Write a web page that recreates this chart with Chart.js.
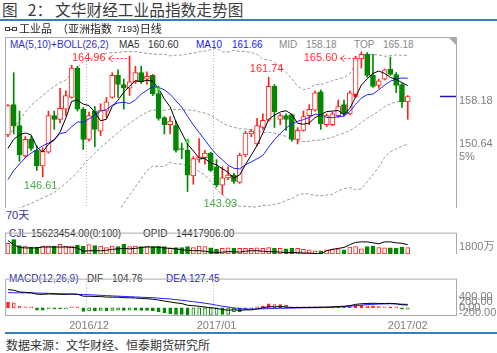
<!DOCTYPE html>
<html><head><meta charset="utf-8">
<script src="https://cdn.jsdelivr.net/npm/chart.js@4/dist/chart.umd.min.js"></script>
<style>
body{margin:0;width:497px;height:353px;background:#fff;position:relative;overflow:hidden;font-family:"Liberation Sans","Noto Sans CJK SC",sans-serif}
.t{position:absolute;white-space:nowrap;line-height:12px;font-size:10px;font-family:"Liberation Sans","Noto Sans CJK SC",sans-serif}
.cjk{font-family:"Noto Sans CJK SC",sans-serif}
#ttl{position:absolute;left:0;top:0;height:19px;line-height:19px;font-size:15.7px;color:#3c3c3c;font-family:"Noto Sans CJK SC",sans-serif;white-space:nowrap;padding-left:2px}
canvas{position:absolute}
</style></head><body>
<div id="ttl">图<span style="margin-left:10px">2</span>：<span style="margin-left:3px">文华财经工业品指数走势图</span></div>
<div style="position:absolute;left:0;top:19px;width:497px;height:2px;background:#3a7dc0"></div>

<div class="t" style="left:10px;top:39px;color:#3333cc">MA(5,10)+BOLL(26,2)</div>
<div class="t" style="left:119px;top:39px;color:#333">MA5</div>
<div class="t" style="left:148px;top:39px;color:#333">160.60</div>
<div class="t" style="left:196px;top:39px;color:#2020ee">MA10</div>
<div class="t" style="left:232px;top:39px;color:#2020ee">161.66</div>
<div class="t" style="left:279px;top:39px;color:#888">MID</div>
<div class="t" style="left:306px;top:39px;color:#888">158.18</div>
<div class="t" style="left:354px;top:39px;color:#888">TOP</div>
<div class="t" style="left:383px;top:39px;color:#888">165.18</div>
<div class="t" style="left:6px;top:209px;font-size:11px;color:#333399">70天</div>

<div class="t" style="left:9px;top:228px;color:#333399">CJL</div>
<div class="t" style="left:31px;top:228px;color:#333">15623454.00(0:100)</div>
<div class="t" style="left:143px;top:228px;color:#333">OPID</div>
<div class="t" style="left:176px;top:228px;color:#333">14417906.00</div>

<div class="t" style="left:9px;top:273px;color:#3333aa">MACD(12,26,9)</div>
<div class="t" style="left:87px;top:273px;color:#333">DIF</div>
<div class="t" style="left:112px;top:273px;color:#333">104.76</div>
<div class="t" style="left:166px;top:273px;color:#2020dd">DEA</div>
<div class="t" style="left:189px;top:273px;color:#2020dd">127.45</div>

<div style="position:absolute;left:5px;top:332px;width:492px;height:2px;background:#3a7dc0"></div>
<div class="t cjk" style="left:6px;top:338px;font-size:12px;line-height:14px;color:#333">数据来源：文华财经、恒泰期货研究所</div>

<canvas id="cMain" width="497" height="203" style="left:0;top:21px"></canvas>
<canvas id="cVol" width="492" height="46" style="left:5px;top:224px"></canvas>
<canvas id="cMacd" width="492" height="62" style="left:5px;top:270px"></canvas>

<script>
// ---------- data ----------
const slots = Array.from({length:78},(_,i)=>String(i));   // 70 trading days + empty right margin
const monthIndex = [14, 36, 69];
const monthLabels = ['2016/12','2017/01','2017/02'];
const gridMonthIdx = [14, 36];

const opens  = [152.99,157.57,154.38,149.80,152.30,150.63,148.27,150.35,155.91,155.35,156.88,158.68,163.13,156.88,152.30,156.60,153.55,156.60,158.68,162.02,160.63,160.07,161.05,162.43,161.46,162.02,159.24,155.63,154.52,154.38,150.91,150.63,146.74,149.24,149.52,150.21,148.13,145.35,146.46,146.88,145.77,149.93,153.13,151.60,154.10,155.21,160.35,155.35,155.91,156.05,152.30,153.68,155.91,156.74,159.52,154.52,154.52,155.91,157.57,156.18,158.96,164.52,165.21,162.02,160.49,161.46,162.99,162.16,160.63,157.99];
const highs  = [157.57,162.43,156.60,152.71,152.71,151.32,151.05,156.60,156.60,160.07,159.66,163.55,163.41,157.16,156.46,157.30,157.71,158.68,162.43,162.85,161.46,164.96,163.41,163.41,162.57,162.16,160.35,155.77,155.77,155.07,151.74,152.30,149.66,152.43,150.63,150.35,149.24,148.13,148.13,147.16,150.21,153.55,153.82,155.49,156.18,161.74,160.63,156.18,156.18,156.18,154.10,156.60,157.57,159.66,159.80,156.18,156.46,158.27,158.27,159.66,164.93,165.60,165.50,165.21,161.46,162.99,164.80,162.43,160.77,158.96];
const lows   = [152.71,153.13,148.96,149.52,150.63,147.57,146.61,150.21,153.82,154.80,155.91,158.55,156.60,150.77,152.02,151.18,152.85,155.63,158.55,158.68,156.88,158.96,160.77,160.77,160.63,158.96,155.21,153.13,153.13,150.35,149.38,144.38,145.49,148.82,148.55,147.43,145.07,143.93,146.18,145.63,145.63,149.66,152.71,151.32,153.82,155.07,154.10,154.52,153.68,152.02,151.60,153.55,154.52,156.60,153.82,154.24,154.38,155.63,155.91,156.05,158.68,163.13,161.74,160.21,160.07,161.32,162.02,159.38,157.16,155.35];
const closes = [157.43,154.38,149.93,152.30,150.91,148.27,150.49,155.91,155.35,157.02,158.96,163.13,156.88,152.30,155.91,153.82,156.74,157.99,162.02,160.63,160.07,161.05,162.43,161.05,161.88,159.24,155.49,154.52,155.07,150.63,150.77,146.88,149.38,149.66,150.21,147.57,145.35,146.46,146.88,145.91,149.93,153.27,153.55,154.38,155.21,160.35,156.46,155.91,155.35,152.30,153.68,155.77,156.88,159.38,154.66,155.91,156.18,157.30,156.18,159.38,164.66,165.21,162.02,160.35,161.18,162.85,162.16,160.49,157.99,158.82];

// indicator values visible before enough history exists inside the window
const ma5Head  = [150.91,152.30,152.99,153.27];
const ma10Head = [146.18,147.57,148.55,149.52,150.21,150.77,151.32,151.74,152.30];
const bollTopHead = [152.71,153.96,155.21,156.46,157.43,158.27,158.96,159.66,160.35,160.91,161.32,162.30,163.27,164.10,164.38,164.66,165.07,165.35,165.49,165.49,165.63,165.63,165.63,165.49,165.35];
const bollMidHead = [141.32,141.60,141.88,142.23,142.57,142.99,143.41,143.82,144.24,144.93,145.63,146.46,147.30,148.41,149.38,150.21,151.05,151.81,152.57,153.34,154.10,154.73,155.35,155.91,156.46];
const bollBotHead = [129.93,129.24,128.55,128.00,127.71,127.71,127.86,127.98,128.13,128.95,129.94,130.62,131.33,132.72,134.38,135.76,137.03,138.27,139.65,141.19,142.57,143.83,145.07,146.33,147.57];

const signalIdx   = [26, 31, 60];
const signalPrice = [159.93, 152.02, 158.96];

const priceTicks = [158.18, 150.64];
const priceTickLabels = [['158.18'], ['150.64','5%']];

// volume in 万 (10k lots), open interest in 万
const volume = [2567,3460,2009,1897,1674,1674,1897,1897,1897,2344,1897,1897,2120,1897,2232,2009,1897,1562,1897,1786,2344,1786,1897,1786,1897,1786,1897,1786,1451,1562,1562,1786,1562,1897,1786,1451,1116,1339,1451,1339,1339,1339,1339,1451,1339,1562,1339,1339,1228,1339,1339,1116,1004,781,781,1004,1116,1228,1004,1674,1786,1228,1786,1897,1562,1451,1451,1339,1674,1562.35];
const openInt = [1532,1442,1382,1372,1372,1372,1392,1392,1392,1392,1392,1382,1372,1302,1312,1312,1312,1322,1342,1352,1362,1352,1362,1382,1392,1392,1382,1372,1362,1352,1332,1322,1312,1312,1302,1282,1272,1282,1292,1292,1282,1302,1312,1312,1302,1292,1292,1282,1272,1272,1272,1262,1262,1252,1242,1312,1342,1362,1382,1442,1492,1502,1502,1482,1462,1502,1502,1482,1472,1441.79];
const volTicks = [1800];

// MACD(12,26,9)
const dif  = [662,643,579,565,549,498,492,507,500,494,493,507,497,424,423,413,411,393,390,388,370,369,360,342,333,316,285,247,215,182,159,97,80,57,32,8,-18,-56,-84,-66,-89,-71,-69,-33,4,47,41,46,36,10,15,18,21,24,27,30,40,50,61,85,128,151,161,169,162,161,165,152,113,104.76];
const dea  = [554,551,548,545,542,539,533,527,520,514,508,500,492,485,477,467,457,447,436,426,416,407,398,388,379,370,354,339,323,300,277,251,226,200,170,139,100,62,31,0,-23,-40,-46,-40,-31,-25,-20,-15,-10,-5,0,3,6,9,12,15,25,35,46,62,77,100,123,131,139,146,150,145,136,127.45];
const macd = [216,185,62,40,15,-83,-83,-40,-40,-40,-31,15,9,-123,-108,-108,-92,-108,-92,-77,-92,-77,-77,-92,-92,-108,-139,-185,-216,-237,-237,-308,-293,-286,-277,-262,-237,-237,-231,-132,-132,-62,-46,15,71,145,123,123,92,31,31,31,31,31,31,31,31,31,31,46,102,102,77,77,46,31,31,15,-46,-45.38];
const macdTicks = [400,200,0,-200];

// ---------- derived indicators ----------
function movAvg(n, head){
  return closes.map((c,i)=>{
    if(i < n-1) return head[i];
    let s=0; for(let k=i-n+1;k<=i;k++) s+=closes[k]; return s/n;
  });
}
const ma5 = movAvg(5, ma5Head), ma10 = movAvg(10, ma10Head);
const bollMid=[], bollTop=[], bollBot=[];
closes.forEach((c,i)=>{
  if(i<25){ bollMid.push(bollMidHead[i]); bollTop.push(bollTopHead[i]); bollBot.push(bollBotHead[i]); return; }
  let s=0; for(let k=i-25;k<=i;k++) s+=closes[k]; const m=s/26;
  let v=0; for(let k=i-25;k<=i;k++) v+=(closes[k]-m)**2; const sd=Math.sqrt(v/25);
  bollMid.push(m); bollTop.push(m+2*sd); bollBot.push(m-2*sd);
});

// ---------- styling ----------
const RED='#ff2020', GREEN='#008800', GRAYTXT='#808080';
const up = closes.map((c,i)=>c>=opens[i]);
const FONT = {family:'Liberation Sans, Noto Sans CJK SC', size:11};

function xCfg(show){
  return {type:'category', labels:slots, offset:true, display:show,
    grid:{display:false, drawTicks:false}, border:{display:false},
    ticks:{autoSkip:false, maxRotation:0, minRotation:0, padding:3, color:GRAYTXT, font:FONT,
      callback:(v,i)=>{const k=monthIndex.indexOf(i); return k>=0?monthLabels[k]:'';}},
    afterFit:s=>{s.height=16;}};
}
function yCfg(min,max,vals,labelFn){
  return {position:'right', min, max,
    grid:{display:false, drawTicks:false}, border:{display:false},
    afterBuildTicks:s=>{s.ticks=vals.map(v=>({value:v}));},
    ticks:{autoSkip:false, padding:2, color:GRAYTXT, font:FONT, callback:(v,i)=>labelFn(v,i)},
    afterFit:s=>{s.width=40;}};
}
function framePlugin(withBottom){
  return {id:'frame',
    beforeDatasetsDraw(chart){
      const {ctx, chartArea:a, scales:{x}} = chart;
      ctx.save(); ctx.strokeStyle='#b4b4b4'; ctx.lineWidth=1; ctx.setLineDash([1,2]);
      gridMonthIdx.forEach(i=>{
        const px=Math.floor((x.getPixelForValue(i-1)+x.getPixelForValue(i))/2)+0.5;
        ctx.beginPath(); ctx.moveTo(px,a.top); ctx.lineTo(px,a.bottom); ctx.stroke();
      });
      ctx.restore();
    },
    afterDraw(chart){
      const {ctx, chartArea:a} = chart;
      ctx.save(); ctx.strokeStyle='#aaaaaa'; ctx.lineWidth=1;
      const L=a.left+0.5, R=a.right-0.5, T=a.top+0.5, B=a.bottom-0.5;
      ctx.beginPath();
      ctx.moveTo(L,a.bottom); ctx.lineTo(L,T); ctx.lineTo(R,T); ctx.lineTo(R,a.bottom);
      if(withBottom){ ctx.moveTo(L,B); ctx.lineTo(R,B); }
      ctx.stroke(); ctx.restore();
    }};
}
const base = {responsive:false, animation:false, events:[],
  layout:{padding:0, autoPadding:false},
  plugins:{legend:{display:false}, tooltip:{enabled:false}}};

// instrument line drawn above the price panel (same canvas)
const instrument = {id:'instrument',
  afterDraw(chart){
    const {ctx, chartArea:a} = chart;
    const yc = a.top - 8;
    ctx.save();
    ctx.strokeStyle='#444'; ctx.lineWidth=1;
    ctx.strokeRect(5.5, Math.round(yc)-1.5, 4, 3); ctx.strokeRect(12.5, Math.round(yc)-1.5, 4, 3);
    ctx.beginPath(); ctx.moveTo(10, Math.round(yc)+0.5); ctx.lineTo(12, Math.round(yc)+0.5); ctx.stroke();
    ctx.fillStyle='#222'; ctx.textBaseline='middle'; ctx.textAlign='left';
    ctx.font='11px "Noto Sans CJK SC"';
    ctx.fillText('工业品', 19, yc);
    ctx.fillText('（亚洲指数', 57, yc);
    ctx.font='9px "Liberation Sans"';
    ctx.fillText('7193', 117, yc+1);
    ctx.font='11px "Noto Sans CJK SC"';
    ctx.fillText(')日线', 136, yc);
    ctx.restore();
  }};

// ---------- main price chart ----------
const annot = {id:'annot',
  afterDatasetsDraw(chart){
    const {ctx, chartArea:a, scales:{x,y}} = chart;
    ctx.save();
    ctx.font='11px Liberation Sans'; ctx.textBaseline='middle';
    [21,61].forEach(i=>{
      const xc=x.getPixelForValue(i), hy=y.getPixelForValue(highs[i]);
      const yl=Math.max(a.top+21, hy);
      ctx.fillStyle='#ff3030'; ctx.textAlign='right';
      ctx.fillText(highs[i].toFixed(2), xc-24, yl);
      ctx.strokeStyle='#ff3030'; ctx.lineWidth=1; ctx.setLineDash([2,2]);
      ctx.beginPath(); ctx.moveTo(xc-21, Math.round(yl)+0.5); ctx.lineTo(xc, Math.round(yl)+0.5); ctx.stroke();
      if(hy>yl+1){ ctx.beginPath(); ctx.moveTo(xc, yl); ctx.lineTo(xc, hy); ctx.stroke(); }
      ctx.setLineDash([]);
      ctx.beginPath(); ctx.moveTo(xc-17, yl-2.5); ctx.lineTo(xc-21, yl+0.5); ctx.lineTo(xc-17, yl+3.5); ctx.stroke();
    });
    [45].forEach(i=>{
      ctx.fillStyle='#ff3030'; ctx.textAlign='center';
      ctx.fillText(highs[i].toFixed(2), x.getPixelForValue(i)-2, y.getPixelForValue(highs[i])-8);
    });
    [6,37].forEach(i=>{
      ctx.fillStyle='#44aa44'; ctx.textAlign='center';
      ctx.fillText(lows[i].toFixed(2), x.getPixelForValue(i)-2, y.getPixelForValue(lows[i])+9);
    });
    const ly=Math.round(y.getPixelForValue(closes[closes.length-1]))+0.5;
    ctx.strokeStyle='#1c1cb4'; ctx.lineWidth=1.5;
    ctx.beginPath(); ctx.moveTo(a.right-17, ly); ctx.lineTo(a.right, ly); ctx.stroke();
    ctx.fillStyle='#a8a8a8'; ctx.beginPath();
    ctx.moveTo(a.right-9, a.top); ctx.lineTo(a.right, a.top); ctx.lineTo(a.right, a.top+9); ctx.closePath(); ctx.fill();
    ctx.restore();
  }};

new Chart(document.getElementById('cMain'), {
  type:'bar',
  data:{labels:slots, datasets:[
    {type:'line', data:bollTop, borderColor:'#9a9a9a', borderWidth:1, borderDash:[3,2], pointRadius:0, order:7},
    {type:'line', data:bollMid, borderColor:'#9a9a9a', borderWidth:1, borderDash:[3,2], pointRadius:0, order:7},
    {type:'line', data:bollBot, borderColor:'#9a9a9a', borderWidth:1, borderDash:[3,2], pointRadius:0, order:7},
    {type:'bar', data:lows.map((l,i)=>[l,highs[i]]), backgroundColor:up.map(u=>u?RED:GREEN), borderWidth:0, barThickness:1, grouped:false, order:6},
    {type:'bar', data:opens.map((o,i)=>[o,closes[i]]), backgroundColor:up.map(u=>u?'#ffffff':GREEN), borderColor:up.map(u=>u?RED:GREEN), borderWidth:1, borderSkipped:false, barThickness:5, minBarLength:1, grouped:false, order:5},
    {type:'line', data:ma10, borderColor:'#2020ff', borderWidth:1, pointRadius:0, order:2},
    {type:'line', data:ma5, borderColor:'#000000', borderWidth:1, pointRadius:0, order:1},
    {type:'line', data:signalIdx.map((i,k)=>({x:slots[i], y:signalPrice[k]})), showLine:false, pointStyle:'rect', pointRadius:2.5, pointBorderWidth:0,
      pointBackgroundColor:signalIdx.map(i=>up[i]?'#ff0000':'#33ee33'), order:0}
  ]},
  options:{...base, layout:{padding:{top:16, left:5, right:0, bottom:0}, autoPadding:false},
    scales:{x:{...xCfg(false)}, y:yCfg(141.88,167.85,priceTicks,(v,i)=>priceTickLabels[i])}},
  plugins:[framePlugin(false), annot, instrument]
});

new Chart(document.getElementById('cVol'), {
  type:'bar',
  data:{labels:slots, datasets:[
    {type:'line', data:openInt, yAxisID:'yOI', borderColor:'#000', borderWidth:1, pointRadius:0, order:0},
    {type:'bar', data:volume, backgroundColor:up.map(u=>u?'#ffffff':GREEN), borderColor:up.map(u=>u?RED:GREEN), borderWidth:1, borderSkipped:false, barThickness:4, order:1}
  ]},
  options:{...base, scales:{x:xCfg(false), y:yCfg(0,5134,volTicks,v=>v+'万'),
    yOI:{display:false, min:1241.79, max:1701.79}}},
  plugins:[framePlugin(false)]
});

const macdFill = macd.map((v,i)=> i===0 || Math.abs(v)>=Math.abs(macd[i-1]));
new Chart(document.getElementById('cMacd'), {
  type:'bar',
  data:{labels:slots, datasets:[
    {type:'line', data:dea, borderColor:'#2020ff', borderWidth:1, pointRadius:0, order:1},
    {type:'line', data:dif, borderColor:'#000', borderWidth:1, pointRadius:0, order:0},
    {type:'bar', data:macd, backgroundColor:macd.map((v,i)=>macdFill[i]?(v>=0?RED:GREEN):'#ffffff'),
      borderColor:macd.map(v=>v>=0?RED:GREEN), borderWidth:1, borderSkipped:false, barThickness:3, minBarLength:1, order:2}
  ]},
  options:{...base, scales:{x:xCfg(true), y:yCfg(-292.6,1062.6,macdTicks,v=>v.toFixed(2))}},
  plugins:[framePlugin(true)]
});
</script>
</body></html>
